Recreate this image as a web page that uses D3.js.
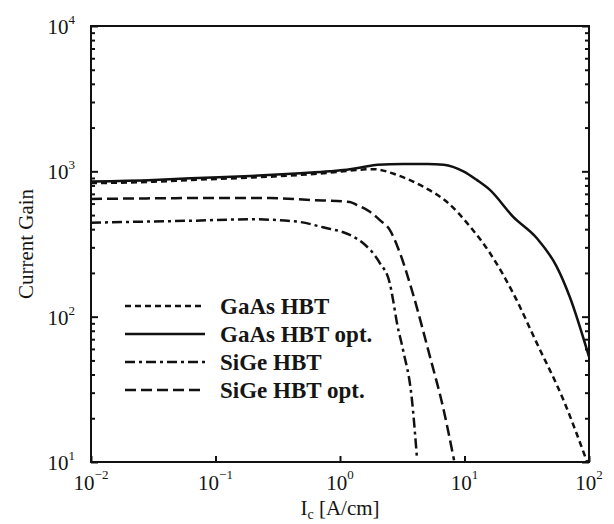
<!DOCTYPE html>
<html lang="en">
<head>
    <meta charset="UTF-8">
    <title>Current Gain vs Ic</title>
    <script src="https://d3js.org/d3.v7.min.js"></script>
    <style>
        body {
            margin: 0;
            background: #fff;
        }
        svg text {
            font-family: 'Liberation Serif', 'Times New Roman', serif;
            fill: #151515;
        }
        .tick-label {
            font-size: 21px;
        }
        .legend-label {
            font-size: 23px;
            font-weight: bold;
        }
        .curve {
            fill: none;
            stroke: #111;
            stroke-width: 2.5;
        }
        .axis path {
            display: none;
        }
        .axis line {
            stroke: #111;
            stroke-width: 2;
        }
    </style>
</head>
<body>
    <svg width="614" height="524"></svg>
    <script>
        // Chart values
        const gaasI     = [0.01, 0.032, 0.063, 0.19, 0.48, 0.83, 1.2, 1.6, 1.85, 2.87, 4.65, 7.2, 11.1, 16, 24.5, 38, 62, 96.6];
        const gaasGain  = [830, 848, 872, 905, 945, 980, 1012, 1032, 1035, 944, 784, 617, 416, 274, 146, 66, 27, 10];

        const gaasOptI    = [0.01, 0.032, 0.063, 0.19, 0.48, 0.83, 1.2, 1.53, 2.0, 3.2, 5.0, 6.8, 9.8, 12.6, 16, 24.5, 38, 55, 70, 100];
        const gaasOptGain = [850, 870, 895, 929, 970, 1000, 1032, 1070, 1110, 1125, 1125, 1110, 1000, 870, 745, 488, 348, 221, 137, 53];

        const sigeI     = [0.01, 0.032, 0.063, 0.19, 0.45, 0.73, 1.2, 1.53, 2.09, 2.51, 2.67, 2.87, 3.21, 3.78, 4.15];
        const sigeGain  = [443, 452, 457, 468, 451, 412, 365, 321, 234, 170, 130, 90, 59, 27, 10.7];

        const sigeOptI    = [0.01, 0.032, 0.1, 0.275, 0.575, 1.2, 1.37, 1.74, 2.09, 2.51, 3.03, 3.78, 5.28, 6.71, 8.24];
        const sigeOptGain = [646, 652, 656, 655, 635, 616, 586, 527, 462, 395, 274, 152, 53, 24, 10.3];

        const seriesNames = ["GaAs HBT", "GaAs HBT opt.", "SiGe HBT", "SiGe HBT opt."];
        const xTickExp = [-2, -1, 0, 1, 2];
        const yTickExp = [1, 2, 3, 4];

        // Plot frame
        const plotLeft = 91, plotRight = 589, plotTop = 26, plotBottom = 462;

        const svg = d3.select("svg");

        const x = d3.scaleLog().domain([0.01, 100]).range([plotLeft, plotRight]);
        const y = d3.scaleLog().domain([10, 10000]).range([plotBottom, plotTop]);

        // minor y ticks (2..9 in each decade)
        const yMinor = [];
        [10, 100, 1000].forEach(d => {
            for (let k = 2; k <= 9; k++) yMinor.push(d * k);
        });
        const yMajor = yTickExp.map(e => Math.pow(10, e));
        const xMajor = xTickExp.map(e => Math.pow(10, e));

        // Left axis ticks (pointing inward)
        svg.append("g").attr("class", "axis")
            .attr("transform", `translate(${plotLeft},0)`)
            .call(d3.axisLeft(y).tickValues(yMinor).tickSize(-4).tickFormat(""));
        svg.append("g").attr("class", "axis")
            .attr("transform", `translate(${plotLeft},0)`)
            .call(d3.axisLeft(y).tickValues(yMajor).tickSize(-7).tickFormat(""));

        // Right axis ticks
        svg.append("g").attr("class", "axis")
            .attr("transform", `translate(${plotRight},0)`)
            .call(d3.axisRight(y).tickValues(yMinor).tickSize(-4).tickFormat(""));
        svg.append("g").attr("class", "axis")
            .attr("transform", `translate(${plotRight},0)`)
            .call(d3.axisRight(y).tickValues(yMajor).tickSize(-7).tickFormat(""));

        // Bottom axis ticks
        svg.append("g").attr("class", "axis")
            .attr("transform", `translate(0,${plotBottom})`)
            .call(d3.axisBottom(x).tickValues(xMajor).tickSize(-6).tickFormat(""));

        // Frame
        svg.append("rect")
            .attr("x", plotLeft).attr("y", plotTop)
            .attr("width", plotRight - plotLeft).attr("height", plotBottom - plotTop)
            .attr("fill", "none").attr("stroke", "#111").attr("stroke-width", 2);

        // Y tick labels 10^n
        yTickExp.forEach(e => {
            const t = svg.append("text").attr("class", "tick-label")
                .attr("x", 75).attr("y", y(Math.pow(10, e)) + 8)
                .attr("text-anchor", "end");
            t.append("tspan").text("10");
            t.append("tspan").attr("font-size", "13px").attr("dy", -10).text(e);
        });

        // X tick labels 10^n
        xTickExp.forEach(e => {
            const t = svg.append("text").attr("class", "tick-label")
                .attr("x", x(Math.pow(10, e))).attr("y", plotBottom + 28)
                .attr("text-anchor", "middle");
            t.append("tspan").text("10");
            t.append("tspan").attr("font-size", "13px").attr("dy", -11)
                .text(e < 0 ? "\u2212" + Math.abs(e) : e);
        });

        // Axis titles
        const xt = svg.append("text").attr("class", "tick-label")
            .attr("x", (plotLeft + plotRight) / 2).attr("y", 515)
            .attr("text-anchor", "middle");
        xt.append("tspan").text("I");
        xt.append("tspan").attr("font-size", "14px").attr("dy", 4).text("c");
        xt.append("tspan").attr("dy", -4).text(" [A/cm]");

        svg.append("text").attr("class", "tick-label")
            .attr("transform", `translate(33,${(plotTop + plotBottom) / 2})rotate(-90)`)
            .attr("text-anchor", "middle")
            .text("Current Gain");

        // Curves
        const series = [
            { name: seriesNames[0], I: gaasI, G: gaasGain, dash: "6,4" },
            { name: seriesNames[1], I: gaasOptI, G: gaasOptGain, dash: null },
            { name: seriesNames[2], I: sigeI, G: sigeGain, dash: "10,4,3,4" },
            { name: seriesNames[3], I: sigeOptI, G: sigeOptGain, dash: "11,5" }
        ];

        const line = d3.line()
            .x(d => x(d[0]))
            .y(d => y(d[1]))
            .curve(d3.curveMonotoneX);

        svg.append("clipPath").attr("id", "plot-clip")
            .append("rect")
            .attr("x", plotLeft).attr("y", plotTop)
            .attr("width", plotRight - plotLeft).attr("height", plotBottom - plotTop);

        svg.append("g").attr("clip-path", "url(#plot-clip)")
            .selectAll("path")
            .data(series)
            .enter().append("path")
            .attr("class", "curve")
            .attr("d", s => line(s.I.map((v, i) => [v, s.G[i]])))
            .attr("stroke-dasharray", s => s.dash);

        // Legend
        const legendY = d3.scalePoint().domain(seriesNames).range([306, 390]);
        const legend = svg.append("g")
            .selectAll("g")
            .data(series)
            .enter().append("g")
            .attr("transform", s => `translate(0,${legendY(s.name)})`);

        legend.append("line")
            .attr("class", "curve")
            .attr("x1", 125).attr("x2", 205)
            .attr("y1", 0).attr("y2", 0)
            .attr("stroke-dasharray", s => s.dash);

        legend.append("text")
            .attr("class", "legend-label")
            .attr("x", 220).attr("y", 0).attr("dy", "0.33em")
            .text(s => s.name);
    </script>
</body>
</html>
